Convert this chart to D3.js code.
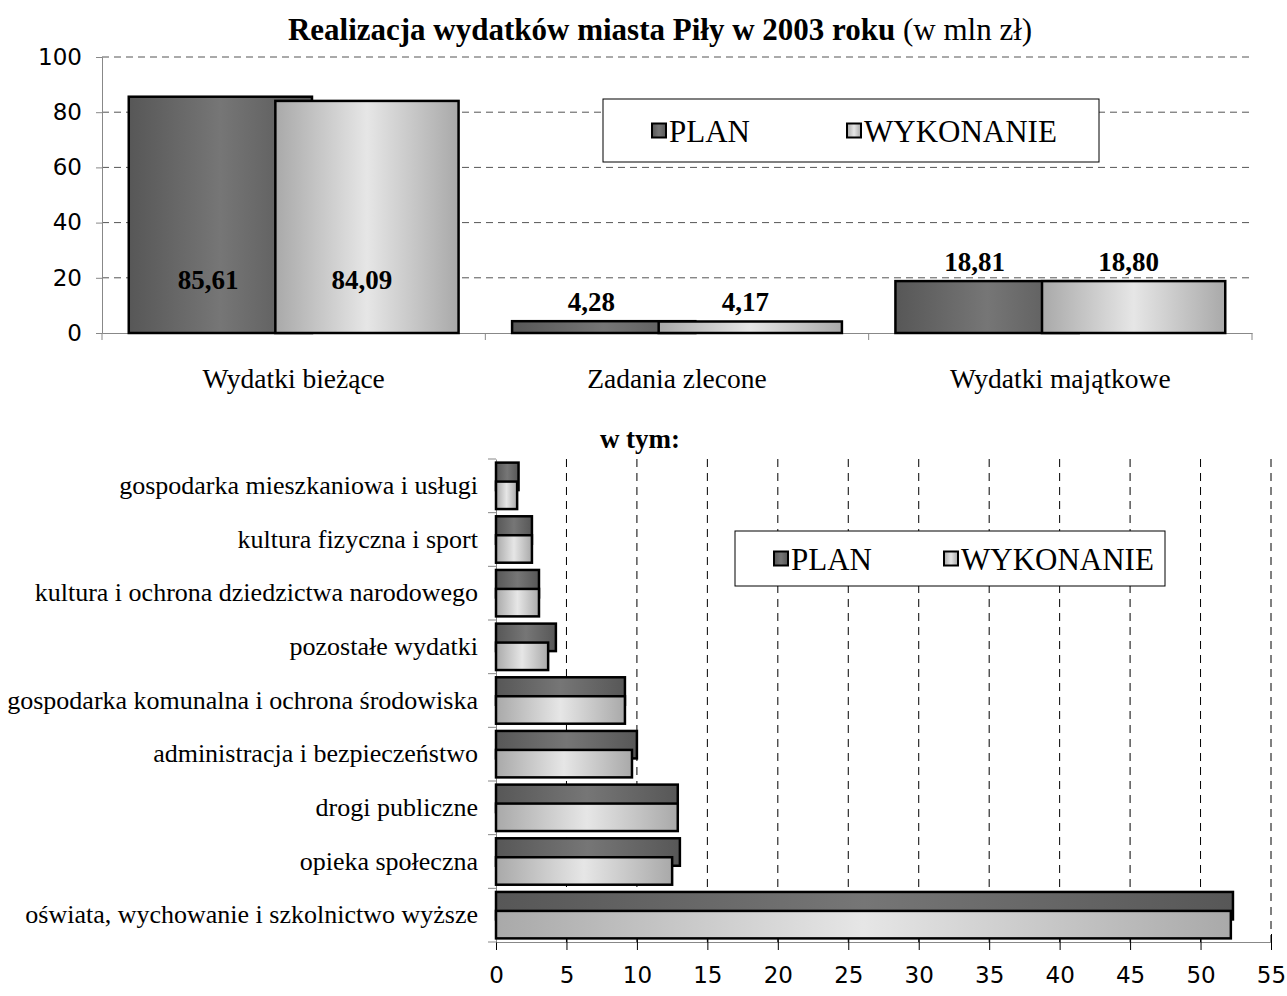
<!DOCTYPE html>
<html>
<head>
<meta charset="utf-8">
<script src="https://cdn.jsdelivr.net/npm/d3@7"></script>
<style>
  body { margin: 0; background: #fff; }
  svg { display: block; }
</style>
</head>
<body>
<div id="viz"></div>
<script>
// --- data ---
var mainCats = ["Wydatki bieżące", "Zadania zlecone", "Wydatki majątkowe"];
var mainPlan = [85.61, 4.28, 18.81];
var mainWyk = [84.09, 4.17, 18.80];
var mainTicks = [0, 20, 40, 60, 80, 100];

var subCats = [
  "gospodarka mieszkaniowa i usługi",
  "kultura fizyczna i sport",
  "kultura i ochrona dziedzictwa narodowego",
  "pozostałe wydatki",
  "gospodarka komunalna i ochrona środowiska",
  "administracja i bezpieczeństwo",
  "drogi publiczne",
  "opieka społeczna",
  "oświata, wychowanie i szkolnictwo wyższe"
];
var subPlan = [1.6, 2.55, 3.05, 4.25, 9.15, 10.0, 12.9, 13.05, 52.3];
var subWyk = [1.5, 2.55, 3.05, 3.7, 9.15, 9.65, 12.9, 12.5, 52.15];
var subTicks = [0, 5, 10, 15, 20, 25, 30, 35, 40, 45, 50, 55];

var seriesNames = ["PLAN", "WYKONANIE"];

var serif = "'Liberation Serif', 'DejaVu Serif', serif";
var sans = "'DejaVu Sans', sans-serif";
var fmt = function(v) { return d3.format(".2f")(v).replace(".", ","); };

var svg = d3.select('#viz')
  .append('svg')
    .attr('width', 1287)
    .attr('height', 996);

// gradients
var defs = svg.append('defs');
function grad(id, edge, mid) {
  var g = defs.append('linearGradient').attr('id', id)
    .attr('x1', 0).attr('x2', 1).attr('y1', 0).attr('y2', 0);
  g.append('stop').attr('offset', '0%').attr('stop-color', edge);
  g.append('stop').attr('offset', '50%').attr('stop-color', mid);
  g.append('stop').attr('offset', '100%').attr('stop-color', edge);
}
grad('gPlan', '#575757', '#767676');
grad('gWyk', '#a9a9a9', '#e6e6e6');
var fills = ['url(#gPlan)', 'url(#gWyk)'];

// title
var title = svg.append('text')
  .attr('x', 660).attr('y', 40)
  .attr('text-anchor', 'middle')
  .style('font-family', serif).style('font-size', '31px');
title.append('tspan').style('font-weight', 'bold').text('Realizacja wydatków miasta Piły w 2003 roku');
title.append('tspan').text(' (w mln zł)');

// ===== top chart =====
var x1 = d3.scaleBand().domain(mainCats).range([102, 1252]);
var y1 = d3.scaleLinear().domain([0, 100]).range([333, 57]);

var gTop = svg.append('g');

// grid
gTop.selectAll('line.grid').data(mainTicks.filter(function(t) { return t > 0; }))
  .enter().append('line')
    .attr('x1', 102).attr('x2', 1252)
    .attr('y1', function(d) { return y1(d); })
    .attr('y2', function(d) { return y1(d); })
    .attr('stroke', '#555').attr('stroke-width', 1)
    .attr('stroke-dasharray', '7,5');

// y axis
var yAx = gTop.append('g').attr('transform', 'translate(102,0)')
  .call(d3.axisLeft(y1).tickValues(mainTicks).tickSize(6).tickPadding(14));
yAx.select('.domain').attr('stroke', '#888');
yAx.selectAll('.tick line').attr('stroke', '#888');
yAx.selectAll('text').style('font-family', sans).style('font-size', '23px').attr('fill', '#000');

// x axis
var xAx = gTop.append('g').attr('transform', 'translate(0,333)')
  .call(d3.axisBottom(x1).tickSize(0).tickPadding(35));
xAx.select('.domain').attr('stroke', '#888');
xAx.selectAll('text').style('font-family', serif).style('font-size', '27.5px').attr('fill', '#000');
gTop.selectAll('line.ct').data(d3.range(mainCats.length + 1))
  .enter().append('line')
    .attr('x1', function(i) { return 102 + i * x1.bandwidth(); })
    .attr('x2', function(i) { return 102 + i * x1.bandwidth(); })
    .attr('y1', 333).attr('y2', 340)
    .attr('stroke', '#888');

var bw1 = x1.bandwidth() * 0.478;
var sh1 = bw1 * 0.8;
function gx1(c) { return x1(c) + (x1.bandwidth() - bw1 - sh1) / 2; }

[mainPlan, mainWyk].forEach(function(vals, s) {
  gTop.selectAll('rect.s' + s).data(mainCats)
    .enter().append('rect')
      .attr('x', function(c) { return gx1(c) + s * sh1; })
      .attr('y', function(c, i) { return y1(vals[i]); })
      .attr('width', bw1)
      .attr('height', function(c, i) { return y1(0) - y1(vals[i]); })
      .attr('fill', fills[s])
      .attr('stroke', '#000').attr('stroke-width', 2.5);
});

// value labels
[mainPlan, mainWyk].forEach(function(vals, s) {
  gTop.selectAll('text.v' + s).data(mainCats)
    .enter().append('text')
      .attr('x', function(c) { return s === 0 ? gx1(c) + sh1 / 2 + 6 : gx1(c) + sh1 + bw1 / 2 - 5; })
      .attr('y', function(c, i) { return vals[i] > 50 ? y1(20) + 11 : y1(vals[i]) - 10; })
      .attr('text-anchor', 'middle')
      .style('font-family', serif).style('font-size', '27px').style('font-weight', 'bold')
      .text(function(c, i) { return fmt(vals[i]); });
});

// legend
function legend(g, x, y, w, h, px) {
  g.append('rect').attr('x', x).attr('y', y).attr('width', w).attr('height', h)
    .attr('fill', '#fff').attr('stroke', '#000').attr('stroke-width', 1);
  seriesNames.forEach(function(n, i) {
    var lx = x + px[i];
    g.append('rect').attr('x', lx).attr('y', y + h / 2 - 7).attr('width', 14).attr('height', 14)
      .attr('fill', fills[i]).attr('stroke', '#000').attr('stroke-width', 2);
    g.append('text').attr('x', lx + 17).attr('y', y + h / 2 + 11)
      .style('font-family', serif).style('font-size', '31px').text(n);
  });
}
legend(gTop, 603, 99, 496, 63, [49, 244]);

// ===== bottom chart =====
var x2 = d3.scaleLinear().domain([0, 55]).range([496, 1271]);
var y2 = d3.scaleBand().domain(subCats).range([459, 942]);

var gBot = svg.append('g');

gBot.append('text').attr('x', 640).attr('y', 448).attr('text-anchor', 'middle')
  .style('font-family', serif).style('font-size', '27px').style('font-weight', 'bold')
  .text('w tym:');

gBot.selectAll('line.grid').data(subTicks.filter(function(t) { return t > 0; }))
  .enter().append('line')
    .attr('x1', function(d) { return x2(d); }).attr('x2', function(d) { return x2(d); })
    .attr('y1', 459).attr('y2', 942)
    .attr('stroke', '#000').attr('stroke-width', 1)
    .attr('stroke-dasharray', '8,6');

var xAx2 = gBot.append('g').attr('transform', 'translate(0,942)')
  .call(d3.axisBottom(x2).tickValues(subTicks).tickSize(8).tickPadding(17));
xAx2.select('.domain').attr('stroke', '#888');
xAx2.selectAll('.tick line').attr('stroke', '#000').attr('y1', -8).attr('y2', 8);
xAx2.selectAll('text').style('font-family', sans).style('font-size', '23px').attr('fill', '#000');

var yAx2 = gBot.append('g').attr('transform', 'translate(496,0)')
  .call(d3.axisLeft(y2).tickSize(0).tickPadding(18));
yAx2.select('.domain').attr('stroke', '#888');
yAx2.selectAll('text').style('font-family', serif).style('font-size', '26px').attr('fill', '#000');
gBot.selectAll('line.ct').data(d3.range(subCats.length + 1))
  .enter().append('line')
    .attr('x1', 488).attr('x2', 496)
    .attr('y1', function(i) { return 459 + i * y2.bandwidth(); })
    .attr('y2', function(i) { return 459 + i * y2.bandwidth(); })
    .attr('stroke', '#888');

var bh2 = y2.bandwidth() * 0.512;
var sh2 = bh2 * 0.69;
function gy2(c) { return y2(c) + (y2.bandwidth() - bh2 - sh2) / 2; }

[subPlan, subWyk].forEach(function(vals, s) {
  gBot.selectAll('rect.s' + s).data(subCats)
    .enter().append('rect')
      .attr('x', x2(0))
      .attr('y', function(c) { return gy2(c) + s * sh2; })
      .attr('width', function(c, i) { return x2(vals[i]) - x2(0); })
      .attr('height', bh2)
      .attr('fill', fills[s])
      .attr('stroke', '#000').attr('stroke-width', 2.5);
});

legend(gBot, 735, 531, 430, 55, [39, 209]);
</script>
</body>
</html>
